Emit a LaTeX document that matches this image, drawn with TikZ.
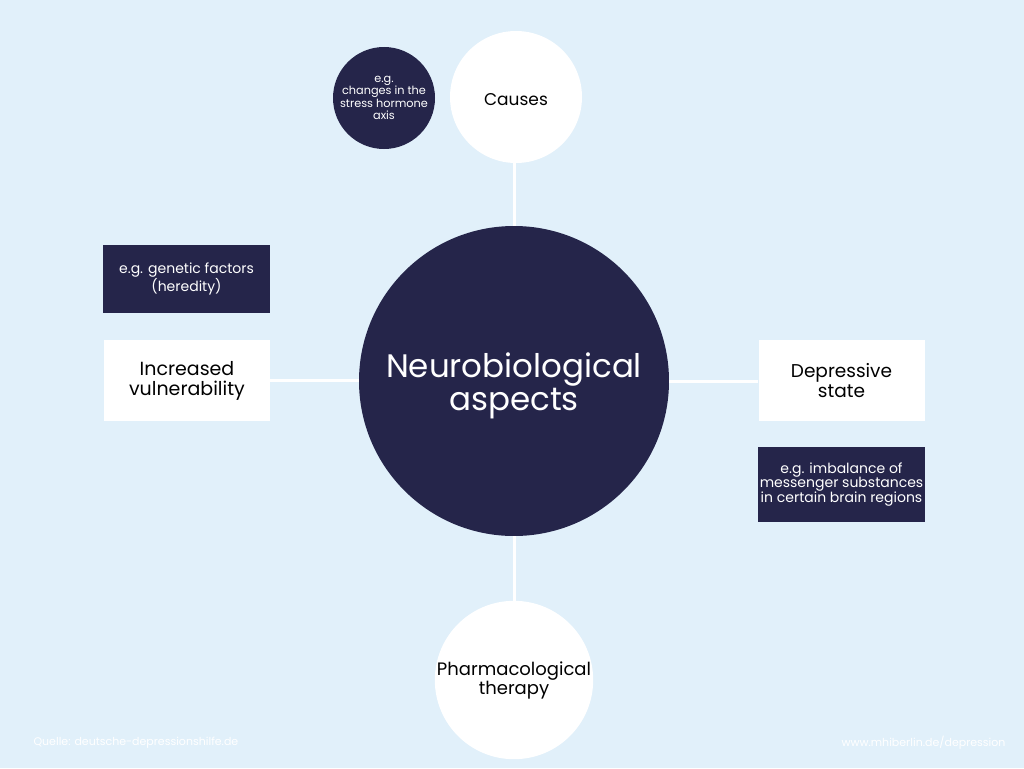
\documentclass[tikz,border=0pt]{standalone}
\usepackage{fontspec}
\setmainfont{Poppins}
\usepackage{tikz}
\usetikzlibrary{positioning}
\definecolor{bg}{RGB}{225,240,250}
\definecolor{navy}{RGB}{37,37,74}

\begin{document}
\begin{tikzpicture}[x=1pt, y=-1pt,
bigcirc/.style={circle,fill=navy,text=white,minimum size=#1,inner sep=0pt,align=center},
whitecirc/.style={circle,fill=white,text=black,minimum size=#1,inner sep=0pt,align=center},
whitebox/.style={rectangle,fill=white,text=black,minimum width=166pt,minimum height=81pt,inner sep=0pt,align=center,font=\fontsize{19}{20}\selectfont},
darkbox/.style={rectangle,fill=navy,text=white,minimum width=167pt,inner sep=0pt,align=center,font=\fontsize{14}{14.5}\selectfont},
link/.style={white,line width=3pt},
foot/.style={text=white,font=\fontsize{11}{12}\selectfont}]

% background
\fill[bg] (0,0) rectangle (1024,768);
\useasboundingbox (0,0) rectangle (1024,768);

% center
\node [bigcirc=310pt, label={[text=white,align=center,yshift=-5pt,font=\fontsize{32.5}{33}\selectfont]center:Neurobiological\\aspects}](center) at (514,381) {};

% circles above and below
\node [whitecirc=132pt, font=\fontsize{17}{19}\selectfont](causes) at (516,97) {\raisebox{-8pt}[0pt][0pt]{Causes}};
\node [bigcirc=102pt, font=\fontsize{11.3}{12.3}\selectfont](stress) at (384,98) {e.g.\\changes in the\\stress hormone\\axis};
\node [whitecirc=156pt, font=\fontsize{18}{19}\selectfont](pharma) at (514,680) {Pharmacological\\therapy};

% boxes left and right
\node [whitebox](vuln) at (187,380.5) {Increased\\vulnerability};
\node [darkbox, minimum height=68pt](genetic) at (186.5,279) {e.g. genetic factors\\(heredity)};
\node [whitebox, font=\fontsize{18.5}{19.5}\selectfont](depr) at (841.5,380.5) {Depressive\\state};
\node [darkbox, minimum height=75pt](imbal) at (841.5,484.5) {e.g. imbalance of\\messenger substances\\in certain brain regions};

% connectors
\draw[link] (center.north |- causes.south) -- (center.north);
\draw[link] (center.south) -- (pharma.north);
\draw[link] (vuln.east) -- (vuln.east -| center.west);
\draw[link] (center.east) -- (center.east -| depr.west);

% footer
\node [foot, anchor=west](src) at (30,743) {Quelle: deutsche-depressionshilfe.de};
\node [foot, anchor=east](web) at (1009,743) {www.mhiberlin.de/depression};
\end{tikzpicture}
\end{document}
